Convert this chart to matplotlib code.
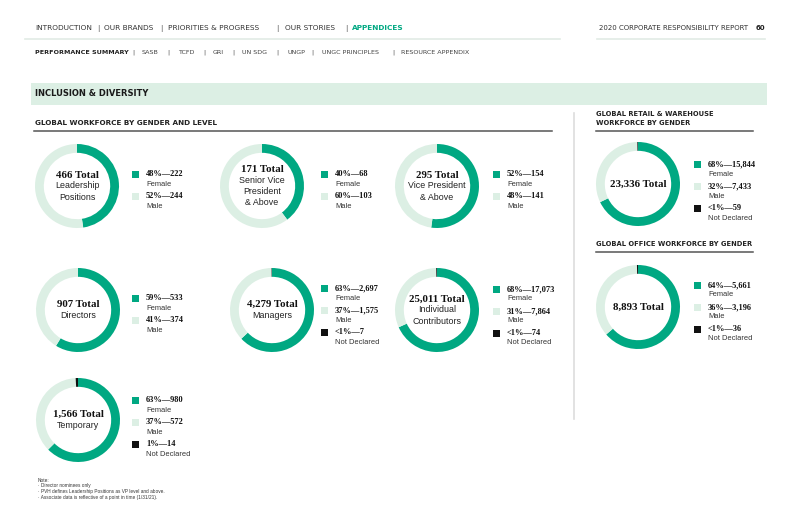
import numpy as np
import matplotlib
matplotlib.use('Agg')
import matplotlib.pyplot as plt
from matplotlib.patches import Rectangle

W, H = 800, 517
GREEN = '#00a882'
LIGHT = '#dcefe4'
BLACK = '#111111'
SERIF = 'Liberation Serif'
NARROW = 'Liberation Sans'
SANS = 'DejaVu Sans'

# ---- data: female / male / not declared per donut
totals = ['466', '171', '295', '907', '4,279', '25,011', '1,566', '23,336', '8,893']
subtitles = [['Leadership', 'Positions'], ['Senior Vice', 'President', '& Above'],
             ['Vice President', '& Above'], ['Directors'], ['Managers'],
             ['Individual', 'Contributors'], ['Temporary'], [], []]
female = [222, 68, 154, 533, 2697, 17073, 980, 15844, 5661]
male = [244, 103, 141, 374, 1575, 7864, 572, 7433, 3196]
not_declared = [0, 0, 0, 0, 7, 74, 14, 59, 36]
female_lbl = ['48%—222', '40%—68', '52%—154', '59%—533', '63%—2,697',
              '68%—17,073', '63%—980', '68%—15,844', '64%—5,661']
male_lbl = ['52%—244', '60%—103', '48%—141', '41%—374', '37%—1,575',
            '31%—7,864', '37%—572', '32%—7,433', '36%—3,196']
nd_lbl = [None, None, None, None, '<1%—7', '<1%—74', '1%—14', '<1%—59', '<1%—36']
categories = ['Female', 'Male', 'Not Declared']

nav_top = ['INTRODUCTION', 'OUR BRANDS', 'PRIORITIES & PROGRESS', 'OUR STORIES', 'APPENDICES']
nav_sub = ['PERFORMANCE SUMMARY', 'SASB', 'TCFD', 'GRI', 'UN SDG', 'UNGP',
           'UNGC PRINCIPLES', 'RESOURCE APPENDIX']
notes = ['Note:', '· Director nominees only',
         '· PVH defines Leadership Positions as VP level and above.',
         '· Associate data is reflective of a point in time (1/31/21).']

# ---- layout (pixels)
centers = [(77, 186), (262, 186), (437, 186), (78, 310), (272, 310), (437, 310),
           (78, 420), (638, 184), (638, 307)]
legend_xy = [(132, 174), (321, 174), (493, 174), (132, 298), (321, 288), (493, 289),
             (132, 400), (694, 164), (694, 285)]
R = 42

fig = plt.figure(figsize=(W / 100, H / 100), dpi=100)
ax = fig.add_axes([0, 0, 1, 1])
ax.set_xlim(0, W)
ax.set_ylim(H, 0)
ax.axis('off')

# header nav
nav_x = [35, 104, 168, 285, 352]
sep_x = [98, 161, 277, 346]
for i, (t, x) in enumerate(zip(nav_top, nav_x)):
    last = i == len(nav_top) - 1
    ax.text(x, 28, t, fontsize=5.3, family=SANS, color=GREEN if last else '#333333',
            weight='bold' if last else 'normal', va='center')
for x in sep_x:
    ax.text(x, 28, '|', fontsize=5.3, color='#555555', va='center', ha='center')
ax.text(748, 28, '2020 CORPORATE RESPONSIBILITY REPORT', fontsize=5, family=SANS,
        color='#333333', va='center', ha='right')
ax.text(765, 28, '60', fontsize=5, family=SANS, weight='bold', color='#222222',
        va='center', ha='right')
ax.plot([25, 560], [39, 39], color='#e1ebe5', lw=1.2)
ax.plot([597, 765], [39, 39], color='#e1ebe5', lw=1.2)

sub_x = [35, 142, 178, 213, 242, 287, 322, 401]
sub_sep = [133, 168, 204, 233, 277, 312, 393]
for i, (t, x) in enumerate(zip(nav_sub, sub_x)):
    ax.text(x, 52, t, fontsize=4.6, family=SANS, color='#222222' if i == 0 else '#444444',
            weight='bold' if i == 0 else 'normal', va='center')
for x in sub_sep:
    ax.text(x, 52, '|', fontsize=4.6, color='#555555', va='center', ha='center')

# band
ax.add_patch(Rectangle((31, 83), 736, 22, color=LIGHT, lw=0))
ax.text(35, 94, 'INCLUSION & DIVERSITY', fontsize=6, weight='bold', family=SANS,
        color='#1a1a1a', va='center')

# section titles
ax.text(35, 123, 'GLOBAL WORKFORCE BY GENDER AND LEVEL', fontsize=5.2, weight='bold',
        family=SANS, color='#222222', va='center')
ax.plot([34, 552], [130.5, 130.5], color='#555555', lw=1.1)
ax.text(596, 113.5, 'GLOBAL RETAIL & WAREHOUSE', fontsize=4.9, weight='bold',
        family=SANS, color='#222222', va='center')
ax.text(596, 123, 'WORKFORCE BY GENDER', fontsize=4.9, weight='bold',
        family=SANS, color='#222222', va='center')
ax.plot([596, 753], [130.5, 130.5], color='#555555', lw=1.1)
ax.text(596, 243.5, 'GLOBAL OFFICE WORKFORCE BY GENDER', fontsize=4.9, weight='bold',
        family=SANS, color='#222222', va='center')
ax.plot([596, 753], [252, 252], color='#555555', lw=1.1)
ax.plot([574, 574], [113, 419], color='#dddddd', lw=1.2)

# donuts
for i, (cx, cy) in enumerate(centers):
    dax = fig.add_axes([(cx - R) / W, 1 - (cy + R) / H, 2 * R / W, 2 * R / H])
    vals = [female[i], male[i], not_declared[i]]
    dax.pie(vals, colors=[GREEN, LIGHT, BLACK], startangle=90, counterclock=False,
            radius=1, wedgeprops=dict(width=0.21, linewidth=0))
    dax.set_xlim(-1, 1)
    dax.set_ylim(-1, 1)
    dax.axis('off')

    lines = [(totals[i] + ' Total', True)] + [(s, False) for s in subtitles[i]]
    n = len(lines)
    for k, (s, bold) in enumerate(lines):
        y = cy + (k - (n - 1) / 2) * 11
        if bold:
            ax.text(cx, y, s, fontsize=7.8, family=SERIF, weight='bold', color='#111111',
                    ha='center', va='center')
        else:
            ax.text(cx, y, s, fontsize=6.4, family=NARROW, color='#222222',
                    ha='center', va='center')

    lx, ly = legend_xy[i]
    entries = [(GREEN, female_lbl[i], categories[0]), (LIGHT, male_lbl[i], categories[1])]
    if nd_lbl[i] is not None:
        entries.append((BLACK, nd_lbl[i], categories[2]))
    for k, (c, v, lab) in enumerate(entries):
        y = ly + k * 22
        ax.add_patch(Rectangle((lx, y - 3.5), 7, 7, color=c, lw=0))
        ax.text(lx + 14, y, v, fontsize=6, family=SERIF, weight='bold', color='#111111',
                va='center')
        ax.text(lx + 14, y + 10, lab, fontsize=5.4, family=NARROW, color='#333333',
                va='center')

# notes
for k, s in enumerate(notes):
    ax.text(38, 480 + k * 6, s, fontsize=3.4, family=NARROW, color='#333333', va='center')

fig.savefig('out.png', dpi=100)
